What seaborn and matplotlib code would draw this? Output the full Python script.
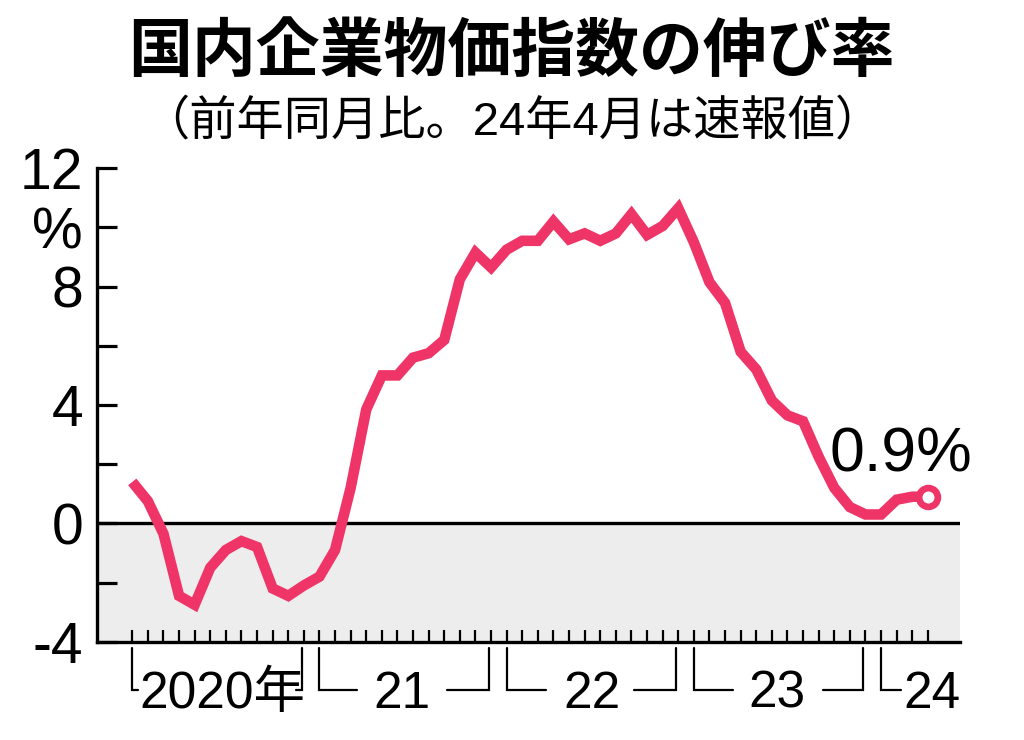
import numpy as np
import pandas as pd
import matplotlib
matplotlib.use("Agg")
import matplotlib.pyplot as plt
import matplotlib.transforms as mtransforms
import seaborn as sns

# ---------------- data ----------------
rates_2020 = [1.4, 0.75, -0.35, -2.45, -2.75, -1.5, -0.9, -0.6, -0.8, -2.2, -2.45, -2.1]
rates_2021 = [-1.8, -0.9, 1.2, 3.85, 5.0, 5.0, 5.6, 5.75, 6.2, 8.25, 9.15, 8.65]
rates_2022 = [9.25, 9.55, 9.55, 10.2, 9.6, 9.8, 9.55, 9.8, 10.45, 9.75, 10.05, 10.65]
rates_2023 = [9.5, 8.15, 7.45, 5.8, 5.2, 4.15, 3.65, 3.45, 2.25, 1.2, 0.55, 0.3]
rates_2024 = [0.3, 0.8, 0.9, 0.9]
rates = rates_2020 + rates_2021 + rates_2022 + rates_2023 + rates_2024
months = list(range(len(rates)))  # 0 = Jan 2020 ... 51 = Apr 2024

year_labels = ["2020年", "21", "22", "23", "24"]
year_first_month = [0, 12, 24, 36, 48]
year_last_month = [11, 23, 35, 47, 51]

y_ticks = [-4, -2, 0, 2, 4, 6, 8, 10, 12]
y_ticklabels = ["-4", "", "0", "", "4", "", "8", "%", "12"]

title = "国内企業物価指数の伸び率"
subtitle = "（前年同月比。24年4月は速報値）"
last_label = "0.9%"

# ---------------- style ----------------
RED = "#EF3467"
sns.set_theme(style="white")
plt.rcParams["font.family"] = ["Liberation Sans", "Noto Sans CJK JP", "DejaVu Sans"]

W, H = 1024, 740
fig = plt.figure(figsize=(W / 100, H / 100), dpi=100)
fig.patch.set_facecolor("white")
ax_l, ax_r, ax_t, ax_b = 97, 960, 168.3, 641.7
ax = fig.add_axes([ax_l / W, 1 - ax_b / H, (ax_r - ax_l) / W, (ax_b - ax_t) / H])
ax.set_facecolor("white")

df = pd.DataFrame({"month": months, "rate": rates})

ax.axhspan(-4, 0, color="#EDEDED", lw=0, zorder=0)
ax.axhline(0, color="black", lw=2.4, zorder=1)
sns.lineplot(data=df, x="month", y="rate", ax=ax, color=RED, lw=7.6,
             zorder=3, solid_joinstyle="miter", solid_capstyle="butt")
ax.plot([months[-1]], [rates[-1]], marker="o", ms=13.5, mew=4.8,
        mfc="white", mec=RED, zorder=4, ls="none")

ax.annotate(last_label, xy=(months[-1], rates[-1]), xytext=(-19.7, 17.8),
            textcoords="offset points", ha="center", va="baseline",
            fontsize=45, color="black", zorder=5)

ax.set_xlim(-2.26, 53.06)
ax.set_ylim(-4, 12)
ax.set_xlabel("")
ax.set_ylabel("")

for s in ["top", "right"]:
    ax.spines[s].set_visible(False)
for s in ["left", "bottom"]:
    ax.spines[s].set_visible(True)
    ax.spines[s].set_color("black")
    ax.spines[s].set_linewidth(2.4)

ax.set_xticks(months)
ax.tick_params(axis="x", direction="in", length=8.5, width=1.6, color="black",
               bottom=True, labelbottom=False)
ax.set_yticks(y_ticks)
ax.set_yticklabels(y_ticklabels, fontsize=41)
ax.tick_params(axis="y", direction="in", length=14.5, width=2.3, color="black",
               labelcolor="black", left=True, pad=10)
ax.grid(False)

# ---------------- year brackets ----------------
trans = mtransforms.blended_transform_factory(ax.transData, ax.transAxes)
y_top, y_bot, y_text = -0.013, -0.102, -0.140
left_len = [0.4, 2.4, 2.5, 2.5, 1.3]
right_len = [0.35, 2.65, 2.7, 2.6, None]
label_shift = [0.25, -0.2, 0.0, -0.2, None]
blw = 1.6
for i, lab in enumerate(year_labels):
    s = year_first_month[i]
    e = year_last_month[i]
    ax.plot([s, s, s + left_len[i]], [y_top, y_bot, y_bot], transform=trans,
            color="black", lw=blw, clip_on=False, solid_joinstyle="miter")
    if right_len[i] is not None:
        er = e - 0.15
        ax.plot([er - right_len[i], er, er], [y_bot, y_bot, y_top], transform=trans,
                color="black", lw=blw, clip_on=False, solid_joinstyle="miter")
        ax.text((s + e) / 2 + label_shift[i], y_text, lab, transform=trans,
                ha="center", va="baseline", fontsize=37, color="black")
    else:
        ax.text(s + left_len[i] + 0.1, y_text, lab, transform=trans,
                ha="left", va="baseline", fontsize=37, color="black")

# ---------------- titles ----------------
fig.text(0.4995, 0.93, title, ha="center", va="center", fontsize=46,
         fontweight="bold", family=["Noto Sans CJK JP"], color="black")
fig.text(0.5, 0.835, subtitle, ha="center", va="center", fontsize=34,
         family=["Liberation Sans", "Noto Sans CJK JP"], color="black")

fig.savefig("out.png", dpi=100, facecolor="white")
